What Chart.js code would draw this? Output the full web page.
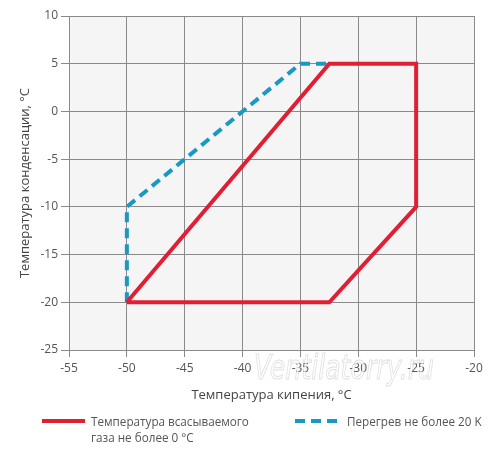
<!DOCTYPE html>
<html>
<head>
<meta charset="utf-8">
<script src="https://cdn.jsdelivr.net/npm/chart.js@4"></script>
<style>
  html, body { margin:0; padding:0; background:#fff; }
  #wrap { position:relative; width:500px; height:460px; font-family:"Open Sans", sans-serif; }
  #c { position:absolute; left:0; top:0; }
  .lg-text { position:absolute; font-size:11.7px; line-height:16px; color:#555; white-space:nowrap; }
  .lg-red { position:absolute; left:42px; top:419px; width:43px; height:4px; background:#e01f35; }
  .lg-blue { position:absolute; left:295px; top:419px; width:42px; height:4px;
    background:repeating-linear-gradient(to right, #1898c3 0 10px, transparent 10px 16px); }
</style>
</head>
<body>
<div id="wrap">
  <canvas id="c" width="500" height="460"></canvas>
  <div class="lg-red"></div>
  <div class="lg-text" style="left:91px; top:413px;">Температура всасываемого<br>газа не более 0 °C</div>
  <div class="lg-blue"></div>
  <div class="lg-text" style="left:347px; top:413px;">Перегрев не более 20 K</div>
</div>
<script>
// Data
const seriesNames = ['Температура всасываемого газа не более 0 °C', 'Перегрев не более 20 K'];
const redX  = [-50, -32.5, -25, -25, -32.5, -50];
const redY  = [-20,   5,     5, -10,  -20,  -20];
const blueX = [-50, -50, -35, -32.5];
const blueY = [-20, -10,   5,   5];
const xTicks = [-55, -50, -45, -40, -35, -30, -25, -20];
const yTicks = [-25, -20, -15, -10, -5, 0, 5, 10];
const xTitle = 'Температура кипения, °C';
const yTitle = 'Температура конденсации, °C';
const watermarkText = 'Ventilatorry.ru';

const toPts = (xs, ys) => xs.map((x, i) => ({x: x, y: ys[i]}));

const bgPlugin = {
  id: 'plotBg',
  beforeDraw(chart) {
    const {ctx, chartArea: a} = chart;
    ctx.save();
    ctx.fillStyle = '#f5f5f5';
    ctx.fillRect(a.left, a.top, a.right - a.left, a.bottom - a.top);
    ctx.restore();
  }
};
const wmPlugin = {
  id: 'watermark',
  afterDraw(chart) {
    const ctx = chart.ctx;
    ctx.save();
    ctx.font = 'italic 34px "DejaVu Sans", sans-serif';
    ctx.textBaseline = 'middle';
    const w = ctx.measureText(watermarkText).width;
    ctx.translate(254, 370);
    ctx.scale(180 / w, 1);
    ctx.fillStyle = 'rgba(255,255,255,0.7)';
    ctx.strokeStyle = 'rgba(150,150,150,0.3)';
    ctx.lineWidth = 1;
    ctx.fillText(watermarkText, 0, 0);
    ctx.strokeText(watermarkText, 0, 0);
    ctx.restore();
  }
};

new Chart(document.getElementById('c'), {
  type: 'scatter',
  data: {
    datasets: [
      { label: seriesNames[0], data: toPts(redX, redY), showLine: true,
        borderColor: '#e01f35', borderWidth: 4, pointRadius: 0, fill: false, tension: 0 },
      { label: seriesNames[1], data: toPts(blueX, blueY), showLine: true,
        borderColor: '#1898c3', borderWidth: 4, borderDash: [10, 6], pointRadius: 0, fill: false, tension: 0 }
    ]
  },
  options: {
    responsive: false,
    animation: false,
    devicePixelRatio: 1,
    layout: { padding: { left: 0, top: 16, right: 26, bottom: 50 } },
    plugins: { legend: { display: false }, tooltip: { enabled: false } },
    scales: {
      x: {
        type: 'linear', min: -55, max: -20,
        afterBuildTicks(s) { s.ticks = xTicks.map(v => ({value: v})); },
        afterFit(s) { s.height = 60; },
        ticks: { color: '#555', font: { family: '"Open Sans", sans-serif', size: 12 }, padding: 4, maxRotation: 0 },
        grid: { color: '#8a8a8a', lineWidth: 1, tickLength: 7 },
        border: { color: '#8a8a8a' },
        title: { display: true, text: xTitle, color: '#444', font: { family: '"Open Sans", sans-serif', size: 13 }, padding: { top: 0, bottom: 7 } }
      },
      y: {
        type: 'linear', min: -25, max: 10,
        afterBuildTicks(s) { s.ticks = yTicks.map(v => ({value: v})); },
        afterFit(s) { s.width = 69; },
        ticks: { color: '#555', font: { family: '"Open Sans", sans-serif', size: 12 }, padding: 3 },
        grid: { color: '#8a8a8a', lineWidth: 1, tickLength: 8 },
        border: { color: '#8a8a8a' },
        title: { display: true, text: yTitle, color: '#444', font: { family: '"Open Sans", sans-serif', size: 13 }, padding: { top: 17, bottom: 0 } }
      }
    }
  },
  plugins: [bgPlugin, wmPlugin]
});
</script>
</body>
</html>
